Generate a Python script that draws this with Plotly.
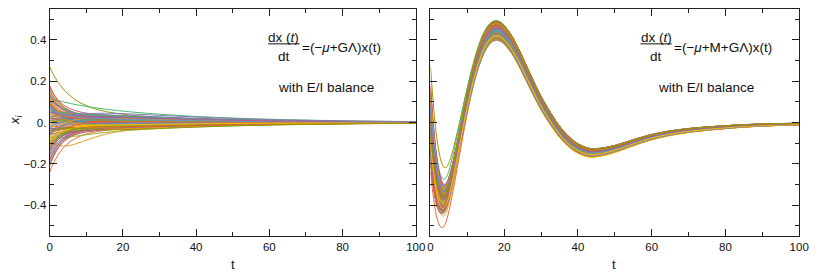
import numpy as np
import plotly.graph_objects as go

# The page body has a default 8px margin, so the figure is drawn 8px in from the corner.
OFF = 8
W, H = 822 - OFF, 273 - OFF

# ---- common time grid and mode shapes ----
t_grid = [0, 0.5, 1, 1.5, 2, 2.5, 3, 3.5, 4, 4.5, 5, 6, 7, 8, 9, 10, 11, 12, 13, 14,
          15, 16, 17, 18, 19, 20, 22, 24, 26, 28, 30, 32, 34, 36, 38, 40, 43, 46, 50, 55,
          60, 65, 70, 75, 80, 85, 90, 95, 100]
fast_shape = [1.0, 0.926, 0.857, 0.794, 0.735, 0.681, 0.630, 0.584, 0.540, 0.500, 0.463, 0.397,
              0.341, 0.292, 0.250, 0.215, 0.184, 0.158, 0.135, 0.116, 0.099, 0.085, 0.073, 0.063,
              0.054, 0.046, 0.034, 0.025, 0.018, 0.013, 0.010, 0.007, 0.005, 0.004, 0.003, 0.002,
              0.001, 0.001, 0.0, 0.0, 0.0, 0.0, 0.0, 0.0, 0.0, 0.0, 0.0, 0.0, 0.0]
slow_shape = [1.0, 0.985, 0.970, 0.956, 0.941, 0.927, 0.913, 0.899, 0.886, 0.873, 0.860, 0.834,
              0.809, 0.785, 0.761, 0.739, 0.717, 0.695, 0.674, 0.654, 0.635, 0.616, 0.597, 0.580,
              0.562, 0.546, 0.513, 0.483, 0.455, 0.428, 0.403, 0.379, 0.357, 0.336, 0.316, 0.298,
              0.272, 0.248, 0.220, 0.189, 0.162, 0.140, 0.120, 0.103, 0.089, 0.076, 0.065, 0.056, 0.048]
hump_shape = [0.0, 0.246, 0.445, 0.604, 0.728, 0.824, 0.895, 0.945, 0.977, 0.995, 1.0, 0.982,
              0.940, 0.878, 0.809, 0.736, 0.663, 0.592, 0.525, 0.463, 0.406, 0.355, 0.308, 0.267,
              0.231, 0.199, 0.147, 0.107, 0.078, 0.056, 0.040, 0.029, 0.021, 0.015, 0.010, 0.007,
              0.004, 0.0025, 0.001, 0.0, 0.0, 0.0, 0.0, 0.0, 0.0, 0.0, 0.0, 0.0, 0.0]
osc_shape = [0.0, -0.10, -0.185, -0.255, -0.305, -0.34, -0.36, -0.368, -0.362, -0.345, -0.318,
             -0.245, -0.16, -0.07, 0.02, 0.105, 0.185, 0.255, 0.315, 0.365, 0.402, 0.428, 0.443,
             0.447, 0.441, 0.426, 0.38, 0.315, 0.24, 0.165, 0.095, 0.035, -0.02, -0.065, -0.10,
             -0.125, -0.145, -0.143, -0.127, -0.097, -0.07, -0.051, -0.038, -0.029, -0.022,
             -0.016, -0.012, -0.009, -0.007]

# ---- per-unit values ----
x_start = [
    0.05, -0.12, 0.09, -0.24, 0.02, 0.11, -0.06, 0.14, -0.03, 0.27,
    -0.09, 0.07, -0.17, 0.01, 0.12, -0.05, 0.04, -0.14, 0.10, -0.01,
    0.16, -0.08, 0.03, -0.20, 0.06, -0.11, 0.08, 0.00, -0.04, 0.13,
    -0.15, 0.05, -0.07, 0.18, -0.02, 0.09, -0.10, 0.03, -0.13, 0.07,
    0.11, -0.19, 0.02, -0.06, 0.15, -0.03, 0.08, -0.09, 0.04, -0.12,
    0.10, -0.05, 0.01, -0.16, 0.06, -0.08, 0.12, -0.02, 0.17, -0.11,
    0.03, -0.07, 0.09, -0.04, 0.05, -0.21, 0.08, -0.01, 0.13, -0.10,
    0.02, -0.06, 0.11, -0.14, 0.07, -0.03, 0.04, -0.09, 0.14, -0.05,
    0.00, 0.10, -0.08, 0.06, -0.13, 0.09, -0.02, 0.12, -0.18, 0.01,
    0.08, -0.07, 0.03, -0.11, 0.05, -0.04, 0.07, -0.10, 0.02, -0.06,
]
slow_amp_left = [
    0.03, -0.04, 0.05, -0.05, -0.02, 0.04, 0.01, 0.06, -0.03, 0.06,
    -0.05, 0.02, -0.06, 0.04, 0.10, -0.01, 0.05, -0.04, 0.03, 0.00,
    0.04, -0.03, -0.05, -0.06, 0.03, -0.04, 0.06, 0.01, -0.03, 0.04,
    -0.05, 0.01, -0.07, 0.05, 0.02, -0.02, -0.04, 0.04, -0.06, 0.02,
    0.03, -0.05, 0.00, -0.03, 0.05, 0.01, 0.04, -0.06, 0.02, -0.02,
    0.02, -0.04, 0.03, -0.05, 0.04, -0.01, 0.07, -0.02, 0.06, -0.04,
    -0.01, -0.05, 0.03, 0.01, 0.04, -0.04, 0.05, -0.03, 0.02, -0.05,
    0.00, 0.03, -0.02, -0.04, 0.06, -0.03, 0.01, -0.05, 0.04, 0.00,
    0.03, -0.01, -0.04, 0.05, -0.03, 0.02, 0.04, -0.06, -0.05, 0.02,
    -0.02, 0.04, -0.03, 0.01, 0.09, -0.04, 0.03, -0.02, 0.05, -0.075,
]
slow_amp_right = [
    0.02, -0.05, 0.06, -0.06, -0.01, 0.04, -0.07, -0.03, 0.03, 0.02,
    -0.04, 0.05, 0.07, -0.02, 0.075, 0.00, 0.03, -0.08, 0.01, 0.05,
    -0.03, 0.07, -0.085, 0.04, -0.01, -0.06, 0.02, 0.06, -0.05, 0.01,
    0.08, -0.02, 0.04, -0.07, 0.05, -0.04, 0.00, -0.075, -0.03, 0.03,
    -0.06, 0.06, 0.01, 0.07, -0.02, 0.04, -0.08, 0.00, 0.02, -0.05,
    0.05, -0.01, 0.03, 0.08, -0.04, 0.02, -0.07, 0.06, 0.00, 0.075,
    -0.03, 0.05, -0.02, 0.07, -0.05, 0.08, 0.01, -0.08, 0.03, -0.06,
    0.04, -0.04, 0.02, 0.06, -0.01, 0.03, -0.05, 0.075, -0.07, 0.00,
    0.05, -0.03, 0.02, 0.01, 0.06, -0.02, 0.04, -0.08, 0.07, -0.01,
    0.01, 0.05, -0.065, 0.03, -0.07, 0.04, 0.00, -0.04, 0.02, 0.065,
]
hump_amp = [
    0.00, 0.02, -0.02, 0.03, 0.01, -0.01, 0.02, -0.03, 0.00, -0.01,
    0.01, -0.02, 0.03, 0.00, 0.00, 0.02, -0.01, 0.03, -0.02, 0.01,
    -0.03, 0.01, 0.00, 0.04, -0.01, 0.02, -0.02, 0.01, 0.00, -0.02,
    0.03, 0.00, -0.01, -0.04, 0.01, -0.02, 0.02, 0.00, 0.03, -0.01,
    -0.02, 0.04, 0.01, 0.00, -0.03, 0.01, -0.01, 0.02, 0.00, 0.02,
    -0.02, 0.01, 0.00, 0.03, -0.01, 0.02, -0.03, 0.00, -0.03, 0.02,
    0.01, -0.06, -0.02, 0.01, 0.00, 0.04, -0.02, 0.01, -0.02, 0.03,
    0.00, 0.01, -0.02, 0.03, -0.01, 0.00, 0.01, 0.02, -0.03, 0.01,
    0.00, -0.02, 0.02, -0.01, 0.03, -0.02, 0.00, -0.02, 0.04, 0.00,
    -0.01, 0.02, 0.00, 0.02, -0.02, 0.01, -0.01, 0.02, -0.01, 0.03,
]
osc_gain = [
    0.005, -0.01, 0.015, 0.02, -0.005, 0.01, -0.015, -0.015, 0.01, 0.00,
    -0.005, 0.01, 0.015, -0.01, 0.00, 0.00, 0.005, -0.015, 0.005, 0.01,
    -0.005, 0.015, -0.01, 0.01, 0.00, -0.015, 0.005, 0.01, -0.01, 0.00,
    0.01, -0.005, 0.005, -0.015, 0.01, -0.005, 0.005, 0.015, -0.01, 0.005,
    -0.018, 0.01, 0.00, 0.015, -0.005, 0.01, -0.015, 0.00, 0.005, -0.01,
    0.01, 0.00, 0.005, 0.01, -0.01, 0.005, -0.015, 0.01, 0.00, 0.01,
    -0.005, 0.01, -0.005, 0.015, -0.01, 0.01, 0.00, -0.005, 0.005, -0.015,
    0.01, -0.01, 0.005, 0.01, 0.00, 0.005, -0.01, 0.015, -0.015, 0.00,
    0.01, -0.005, 0.005, 0.00, 0.015, -0.005, 0.01, -0.015, 0.015, -0.005,
    0.005, 0.01, -0.01, 0.005, -0.018, 0.01, 0.00, -0.01, 0.005, 0.015,
]

x_ticks = [0, 20, 40, 60, 80, 100]
x_minor = [10, 30, 50, 70, 90]
y_ticks = [-0.4, -0.2, 0.0, 0.2, 0.4]
y_ticktext = ["\u22120.4", "\u22120.2", "0.", "0.2", "0.4"]
y_minor = [-0.5, -0.3, -0.1, 0.1, 0.3, 0.5]

palette = ["#5E81B5", "#E19C24", "#8FB032", "#EB6235", "#8778B3", "#C56E1A", "#5D9EC7",
           "#FFBF00", "#A5609D", "#929600", "#E95536", "#6685D9", "#F89F13", "#BC5B80", "#47B66D"]

t = np.array(t_grid)
fs, ss, hs, os_ = map(np.array, (fast_shape, slow_shape, hump_shape, osc_shape))

fig = go.Figure()
for i in range(len(x_start)):
    y = (x_start[i] - slow_amp_left[i]) * fs + slow_amp_left[i] * ss + hump_amp[i] * hs
    fig.add_trace(go.Scatter(x=t, y=y, mode="lines", xaxis="x", yaxis="y",
                             line=dict(color=palette[i % len(palette)], width=1, shape="spline", smoothing=0.8),
                             showlegend=False, hoverinfo="skip"))
for i in range(len(x_start)):
    y = ((x_start[i] - slow_amp_right[i]) * fs + slow_amp_right[i] * ss + hump_amp[i] * hs
         + (1 + osc_gain[i]) * os_)
    fig.add_trace(go.Scatter(x=t, y=y, mode="lines", xaxis="x2", yaxis="y2",
                             line=dict(color=palette[i % len(palette)], width=1, shape="spline", smoothing=0.8),
                             showlegend=False, hoverinfo="skip"))

FONT = "Liberation Sans, Arial, sans-serif"
axis_common = dict(showline=True, linecolor="#222", linewidth=1, mirror="allticks",
                   ticks="inside", ticklen=7, tickwidth=1, tickcolor="#222",
                   showgrid=False, zeroline=False,
                   tickfont=dict(family=FONT, size=11.5, color="#111"))


def px_x(p):
    return (p - OFF) / W


def px_y(p):
    return 1 - (p - OFF) / H


ydom = [px_y(236), min(1.0, px_y(4.7))]
minor_x = dict(tickmode="array", tickvals=x_minor, ticks="inside", ticklen=4, tickcolor="#222")
minor_y = dict(tickmode="array", tickvals=y_minor, ticks="inside", ticklen=4, tickcolor="#222")

fig.update_layout(
    width=W, height=H, margin=dict(l=0, r=0, t=0, b=0),
    paper_bgcolor="white", plot_bgcolor="white",
    xaxis=dict(domain=[px_x(47.3), px_x(419.3)], range=[0, 100], anchor="y",
               tickmode="array", tickvals=x_ticks, minor=minor_x, **axis_common),
    yaxis=dict(domain=ydom, range=[-0.55, 0.55], anchor="x",
               tickmode="array", tickvals=y_ticks, ticktext=y_ticktext, minor=minor_y, **axis_common),
    xaxis2=dict(domain=[px_x(434.3), px_x(809)], range=[0, 100], anchor="y2",
                tickmode="array", tickvals=x_ticks, minor=minor_x, **axis_common),
    yaxis2=dict(domain=ydom, range=[-0.55, 0.55], anchor="x2", showticklabels=False,
                tickmode="array", tickvals=y_ticks, minor=minor_y, **axis_common),
)

TXT = dict(family=FONT, size=13.5, color="#111")
ann = []


def add_text(x, y, text, xanchor="center", size=None, angle=0):
    f = dict(TXT)
    if size:
        f["size"] = size
    ann.append(dict(x=px_x(x), y=px_y(y), xref="paper", yref="paper", text=text,
                    showarrow=False, xanchor=xanchor, yanchor="middle", font=f, textangle=angle))


# left panel equation
add_text(285.2, 37, "dx (<i>t</i>)")
add_text(285.8, 56, "dt")
add_text(301.5, 47, "=(\u2212<i>\u03bc</i>+G\u039b)x(t)", xanchor="left")
add_text(328, 87, "with E/I balance")
# right panel equation
add_text(663.5, 37, "dx (<i>t</i>)")
add_text(663.8, 56, "dt")
add_text(679.5, 47, "=(\u2212<i>\u03bc</i>+M+G\u039b)x(t)", xanchor="left")
add_text(714.7, 87, "with E/I balance")
# axis titles
add_text(233.3, 264, "t", size=13)
add_text(620.7, 264, "t", size=13)
add_text(12.5, 119, "<i>x<sub>i</sub></i>", size=13, angle=-90)

fig.update_layout(annotations=ann)
fig.add_shape(type="line", xref="paper", yref="paper", x0=px_x(269.3), x1=px_x(301.5),
              y0=px_y(43), y1=px_y(43), line=dict(color="#111", width=1))
fig.add_shape(type="line", xref="paper", yref="paper", x0=px_x(647.7), x1=px_x(679.5),
              y0=px_y(43), y1=px_y(43), line=dict(color="#111", width=1))

fig.write_html("out.html")
